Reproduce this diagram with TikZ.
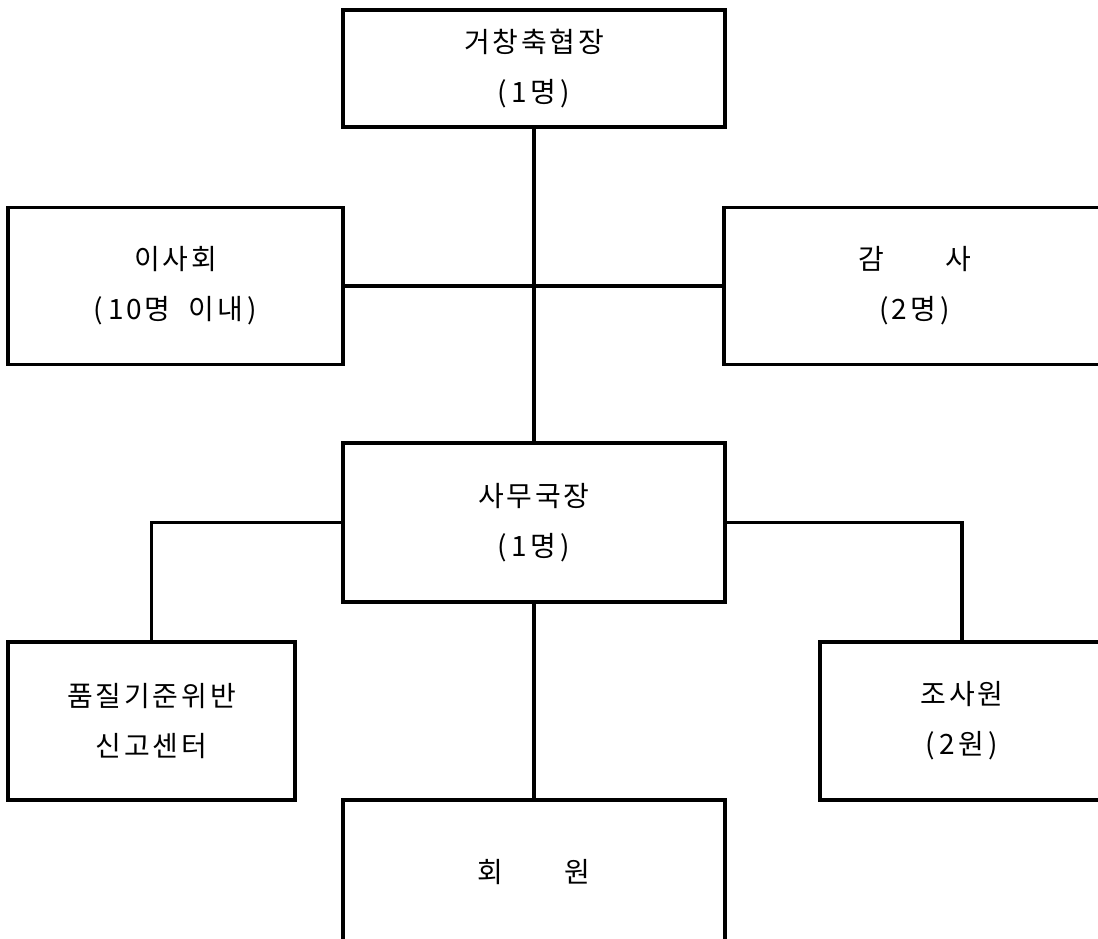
\documentclass[tikz,border=0pt]{standalone}
\usepackage{fontspec}
\newfontfamily\kr[LetterSpace=10]{Noto Sans CJK KR}
\tikzset{
	orgbox/.style={draw, line width=3.5pt, align=center, inner sep=0pt,
		font=\kr\fontsize{28}{50}\selectfont},
	orgline/.style={line width=3.5pt}
}
\begin{document}
\begin{tikzpicture}[x=1pt,y=-1pt]
				\useasboundingbox (0,0) rectangle (1098,938);
				\clip (0,0) rectangle (1098,938);
				\node[orgbox, minimum width=382, minimum height=117] (chief) at (534,68.5) {거창축협장\\(\,1명\,)};
				\node[orgbox, minimum width=335, minimum height=157] (board) at (175.5,286) {이사회\\(\,10명 \ 이내\,)};
				\node[orgbox, minimum width=382, minimum height=157] (audit) at (915,286) {감\hspace{2.2em}사\\(2명\,)};
				\node[orgbox, minimum width=382, minimum height=159] (office) at (534,522.5) {사무국장\\(\,1명\,)};
				\node[orgbox, minimum width=287, minimum height=158] (report) at (151.5,721) {품질기준위반\\신고센터};
				\node[orgbox, minimum width=284, minimum height=158] (staff) at (962,721) {조사원\\(\,2원\,)};
				\node[orgbox, minimum width=382, minimum height=144] (member) at (534,872) {회\hspace{2.2em}원};
				\draw[orgline] (chief.south) -- (office.north);
				\draw[orgline] (board.east) -- (audit.west);
				\draw[orgline] (office.west) -| (report.north);
				\draw[orgline] (office.east) -| (staff.north);
				\draw[orgline] (office.south) -- (member.north);
\end{tikzpicture}
\end{document}
